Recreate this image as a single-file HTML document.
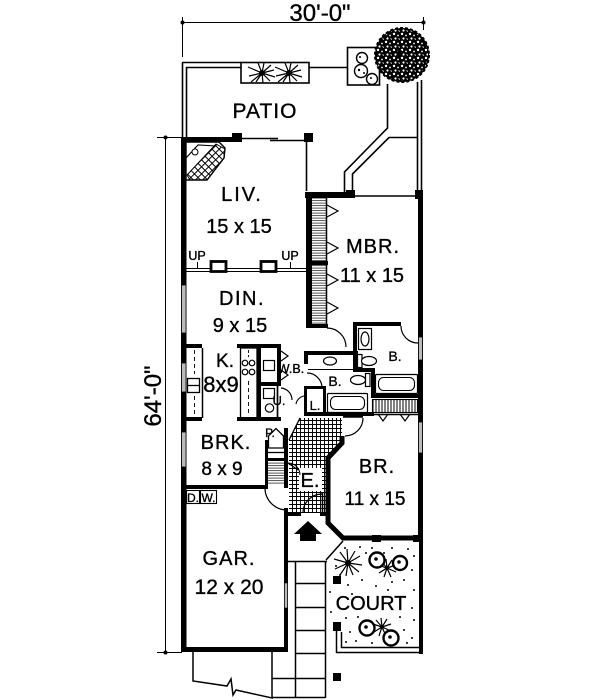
<!DOCTYPE html>
<html><head><meta charset="utf-8">
<style>
html,body{margin:0;padding:0;background:#fff;}
svg{display:block}
text{font-family:"Liberation Sans",sans-serif;fill:#000;}
.lb{stroke:#000;stroke-width:0.35;}
</style></head><body>
<svg width="600" height="700" viewBox="0 0 600 700" xmlns="http://www.w3.org/2000/svg">
<defs>
<pattern id="tile" width="4" height="4" patternUnits="userSpaceOnUse">
<path d="M0 0.5H4M0.5 0V4" stroke="#000" stroke-width="0.95" fill="none"/>
</pattern>
<pattern id="hatch" width="3" height="2.5" patternUnits="userSpaceOnUse">
<path d="M0 0.6H3" stroke="#444" stroke-width="0.9"/>
</pattern>
<pattern id="vhatch" width="3" height="3" patternUnits="userSpaceOnUse">
<path d="M1 0V3" stroke="#000" stroke-width="1"/>
</pattern>
<pattern id="diam" width="5" height="5" patternUnits="userSpaceOnUse" patternTransform="rotate(45)">
<path d="M0 0.5H5M0.5 0V5" stroke="#000" stroke-width="1" fill="none"/>
</pattern>
<pattern id="spk" width="8" height="8" patternUnits="userSpaceOnUse">
<circle cx="2" cy="2" r="1.2" fill="#fff"/>
<circle cx="6" cy="3.5" r="0.9" fill="#fff"/>
<circle cx="3.5" cy="6.5" r="1.1" fill="#fff"/>
<path d="M6.5 6.5l1.5 1" stroke="#fff" stroke-width="0.8"/>
</pattern>
</defs>

<!-- Dimension lines -->
<g stroke="#000" stroke-width="1" fill="none">
<line x1="182" y1="22.5" x2="423" y2="22.5"/>
<line x1="182.5" y1="17" x2="182.5" y2="57"/>
<line x1="423.5" y1="17" x2="423.5" y2="30"/>
<line x1="165.5" y1="137" x2="165.5" y2="652"/>
<line x1="157" y1="137.5" x2="182" y2="137.5"/>
<line x1="157" y1="652.5" x2="182" y2="652.5"/>
</g>
<circle cx="182.5" cy="22.5" r="2" fill="#000"/>
<circle cx="423.5" cy="22.5" r="2" fill="#000"/>
<circle cx="165.5" cy="137.5" r="2" fill="#000"/>
<circle cx="165.5" cy="652.5" r="2" fill="#000"/>
<text class="lb" x="320" y="21" font-size="24" text-anchor="middle">30'-0"</text>
<text class="lb" transform="translate(161,396) rotate(-90)" font-size="24" text-anchor="middle">64'-0"</text>

<!-- Patio fences -->
<g stroke="#000" stroke-width="1.6" fill="none">
<line x1="182.5" y1="62" x2="182.5" y2="137"/>
<line x1="186.5" y1="67" x2="186.5" y2="137"/>
<line x1="182" y1="62.5" x2="241" y2="62.5"/>
<line x1="186" y1="67.5" x2="241" y2="67.5"/>
<rect x="241" y="62.5" width="68" height="20.5"/>
<line x1="309" y1="67.5" x2="347" y2="67.5"/>
<rect x="347.5" y="47.5" width="32" height="37.5"/>
<line x1="417.5" y1="82" x2="417.5" y2="193"/>
<line x1="421.5" y1="80" x2="421.5" y2="193"/>
<polyline points="387.5,84 387.5,128 344.5,172 344.5,195"/>
<polyline points="417,137.5 389,137.5 352.5,174 352.5,195"/>
</g>
<!-- planter shrubs -->
<g stroke="#000" stroke-width="1.2">
<path d="M262 73l-14-6M262 73l-13 3M262 73l-11 9M262 73l-4-10M262 73l2-10M262 73l9-8M262 73l12-3M262 73l13 4M262 73l8 8M262 73l1 10M262 73l-6 9"/>
<path d="M289 73l-14-6M289 73l-13 3M289 73l-11 9M289 73l-4-10M289 73l2-10M289 73l9-8M289 73l12-3M289 73l13 4M289 73l8 8M289 73l1 10M289 73l-6 9"/>
</g>
<circle cx="262" cy="73" r="3" fill="#000"/>
<circle cx="289" cy="73" r="3" fill="#000"/>
<g stroke="#000" stroke-width="1.4" fill="#fff">
<circle cx="362" cy="58" r="5.5"/>
<circle cx="361" cy="71" r="6.5"/>
<circle cx="372" cy="79" r="5.5"/>
</g>
<g fill="#000"><circle cx="360" cy="57" r="1"/><circle cx="359" cy="70" r="1.2"/><circle cx="364" cy="73" r="1"/><circle cx="371" cy="78" r="1"/></g>
<!-- tree -->
<circle cx="402" cy="55" r="27" fill="#000" stroke="#000" stroke-width="2" stroke-dasharray="3,2"/>
<circle cx="402" cy="55" r="26" fill="url(#spk)"/>
<circle cx="400" cy="53" r="3" fill="#000"/>

<!-- House top wall -->
<rect x="181" y="137" width="56" height="5" fill="#000"/>
<rect x="232" y="133" width="10" height="9" fill="#000"/>
<line x1="242" y1="138.5" x2="278" y2="138.5" stroke="#000" stroke-width="1.4"/>
<line x1="270" y1="140.5" x2="305" y2="140.5" stroke="#000" stroke-width="1.4"/>
<rect x="304" y="133" width="9" height="9" fill="#000"/>
<line x1="306.5" y1="142" x2="306.5" y2="191" stroke="#000" stroke-width="1.6"/>

<!-- Fireplace -->
<polygon points="186,142 219,142 225,148 224,158 207,180 186,180" fill="#fff" stroke="#000" stroke-width="1.4"/>
<polygon points="216,144 225,149 224,158 207,180 190,180 187,175" fill="url(#diam)" stroke="#000" stroke-width="1"/>
<polyline points="186,158 198,145 216,146" fill="none" stroke="#000" stroke-width="1.1"/>
<circle cx="195" cy="152" r="3" fill="#fff" stroke="#000" stroke-width="1"/>

<!-- Left outer wall -->
<rect x="181" y="137" width="5.5" height="515" fill="#000"/>
<g fill="#bbb" stroke="#000" stroke-width="0.8">
<rect x="181.5" y="285" width="4.5" height="48"/>
<rect x="181.5" y="363" width="4.5" height="29"/>
<rect x="181.5" y="432" width="4.5" height="35"/>
</g>

<!-- MBR top wall -->
<rect x="305" y="192" width="48" height="6" fill="#000"/>
<rect x="346" y="190" width="9" height="8" fill="#000"/>
<line x1="355" y1="196" x2="417" y2="196" stroke="#000" stroke-width="1.4"/>
<rect x="415" y="190" width="8" height="9" fill="#000"/>
<!-- Right wall -->
<rect x="418" y="193" width="5" height="347" fill="#000"/>
<g fill="#bbb" stroke="#000" stroke-width="0.8">
<rect x="418.5" y="337" width="4" height="23"/>
<rect x="418.5" y="422" width="4" height="31"/>
</g>

<!-- MBR closets -->
<rect x="306" y="193" width="6" height="135" fill="#000"/>
<rect x="312" y="198" width="14" height="127" fill="url(#hatch)"/>
<line x1="326.5" y1="197" x2="326.5" y2="326" stroke="#000" stroke-width="1.5"/>
<rect x="306" y="261" width="22" height="4" fill="#000"/>
<rect x="306" y="324" width="22" height="4" fill="#000"/>
<g stroke="#000" stroke-width="1.2" fill="none">
<polyline points="327,205 338,211 327,217"/>
<polyline points="327,242 338,248 327,254"/>
<polyline points="327,274 338,280 327,286"/>
<polyline points="327,302 338,308 327,314"/>
</g>
<path d="M327 328 A19 19 0 0 1 346 347" fill="none" stroke="#000" stroke-width="1.2"/>

<!-- LIV/DIN divider -->
<line x1="186" y1="268.5" x2="306" y2="268.5" stroke="#000" stroke-width="1"/>
<line x1="186" y1="271.5" x2="306" y2="271.5" stroke="#000" stroke-width="1"/>
<rect x="211" y="261.5" width="15" height="10" fill="#fff" stroke="#000" stroke-width="2.8"/>
<rect x="261" y="261.5" width="15" height="10" fill="#fff" stroke="#000" stroke-width="2.8"/>
<text class="lb" x="197" y="260" font-size="12.5" text-anchor="middle">UP</text>
<text class="lb" x="290" y="260" font-size="12.5" text-anchor="middle">UP</text>
<line x1="197.5" y1="262" x2="197.5" y2="268" stroke="#000" stroke-width="1"/>
<line x1="290.5" y1="262" x2="290.5" y2="268" stroke="#000" stroke-width="1"/>

<!-- Kitchen -->
<rect x="181" y="344" width="21" height="4" fill="#000"/>
<rect x="237" y="344" width="44" height="4" fill="#000"/>
<line x1="202.5" y1="348" x2="202.5" y2="418" stroke="#000" stroke-width="1.5"/>
<line x1="194.5" y1="350" x2="194.5" y2="374" stroke="#000" stroke-width="0.9" stroke-dasharray="4,3"/>
<line x1="194.5" y1="396" x2="194.5" y2="416" stroke="#000" stroke-width="0.9" stroke-dasharray="4,3"/>
<rect x="187.5" y="378.5" width="12" height="14" fill="#fff" stroke="#000" stroke-width="1.3"/>
<line x1="187.5" y1="385.5" x2="199.5" y2="385.5" stroke="#000" stroke-width="1.3"/>
<rect x="181" y="417" width="21" height="4" fill="#000"/>
<rect x="240.5" y="348" width="16.5" height="70" fill="#fff" stroke="#000" stroke-width="1.3"/>
<g fill="#fff" stroke="#000" stroke-width="1.2">
<circle cx="245" cy="363" r="2.8"/><circle cx="252" cy="363" r="2.8"/>
<circle cx="245" cy="372" r="2.8"/><circle cx="252" cy="372" r="2.8"/>
</g>
<line x1="248.5" y1="381" x2="248.5" y2="416" stroke="#000" stroke-width="0.9" stroke-dasharray="4,3"/>
<line x1="248.5" y1="350" x2="248.5" y2="357" stroke="#000" stroke-width="0.9" stroke-dasharray="3,2"/>
<rect x="257" y="344" width="4" height="77" fill="#000"/>
<rect x="277" y="344" width="4" height="40" fill="#000"/>
<rect x="261" y="382" width="20" height="4" fill="#000"/>
<rect x="263.5" y="360.5" width="11" height="10" fill="#fff" stroke="#000" stroke-width="1.2"/>
<rect x="263.5" y="388.5" width="11" height="10" fill="#fff" stroke="#000" stroke-width="1.2"/>
<circle cx="269.5" cy="408" r="4.2" fill="#fff" stroke="#000" stroke-width="1.2"/>
<rect x="237" y="417" width="44" height="4" fill="#000"/>
<line x1="277.5" y1="386" x2="277.5" y2="418" stroke="#000" stroke-width="1.7"/>
<g stroke="#000" stroke-width="1.2" fill="none">
<polyline points="281,351 288,356 281,361"/>
<polyline points="281,370 288,375 281,380"/>
<path d="M281 388 A12 12 0 0 1 292 400"/>
</g>

<!-- Baths -->
<rect x="304" y="351" width="54" height="4" fill="#000"/>
<rect x="353" y="322" width="48" height="4" fill="#000"/>
<rect x="353" y="322" width="4" height="50" fill="#000"/>
<rect x="353" y="368" width="22" height="4" fill="#000"/>
<rect x="371" y="368" width="4" height="30" fill="#000"/>
<rect x="371" y="394" width="50" height="4" fill="#000"/>
<path d="M401 326 A17 17 0 0 0 418 343" fill="none" stroke="#000" stroke-width="1.2"/>
<rect x="358.5" y="328.5" width="13" height="21" fill="#fff" stroke="#000" stroke-width="1.2"/>
<ellipse cx="365" cy="339" rx="4" ry="7" fill="#fff" stroke="#000" stroke-width="1.2"/>
<rect x="357.5" y="354.5" width="4.5" height="13" fill="#fff" stroke="#000" stroke-width="1.2"/>
<ellipse cx="369" cy="361" rx="7.5" ry="4.5" fill="#fff" stroke="#000" stroke-width="1.2"/>
<rect x="375.5" y="374.5" width="42" height="19" rx="1" fill="#fff" stroke="#000" stroke-width="1.2"/>
<rect x="378.5" y="377.5" width="36" height="13" rx="5" fill="#fff" stroke="#000" stroke-width="1.1"/>

<rect x="304" y="351" width="4" height="13" fill="#000"/>
<path d="M307 373 A15 15 0 0 1 322 388" fill="none" stroke="#000" stroke-width="1.2"/>
<line x1="308" y1="369.5" x2="353" y2="369.5" stroke="#000" stroke-width="1.1"/>
<ellipse cx="330" cy="361" rx="6.5" ry="4" fill="#fff" stroke="#000" stroke-width="1.2"/>
<rect x="365.5" y="373.5" width="4.5" height="13" fill="#fff" stroke="#000" stroke-width="1.2"/>
<ellipse cx="358" cy="380" rx="7.5" ry="4.5" fill="#fff" stroke="#000" stroke-width="1.2"/>
<rect x="327.5" y="393.5" width="40" height="19" rx="1" fill="#fff" stroke="#000" stroke-width="1.2"/>
<rect x="330.5" y="396.5" width="34" height="13" rx="5" fill="#fff" stroke="#000" stroke-width="1.1"/>
<rect x="305.5" y="387.5" width="19" height="26" fill="#fff" stroke="#000" stroke-width="3"/>
<path d="M304 396 A10 10 0 0 0 296 404" fill="none" stroke="#000" stroke-width="1.1"/>
<rect x="304" y="412" width="70" height="4" fill="#000"/>

<!-- BR closet -->
<rect x="372.5" y="399.5" width="45" height="13" fill="url(#vhatch)" stroke="#000" stroke-width="1.1"/>
<g stroke="#000" stroke-width="1.2" fill="none">
<polyline points="378,414 383,421 388,414"/>
<polyline points="400,414 405,421 410,414"/>
</g>
<line x1="363" y1="414.5" x2="420" y2="414.5" stroke="#000" stroke-width="1.4"/>

<!-- Foyer tile -->
<polygon points="300,418 342,418 342,443 328,458 328,513 289,513 289,440" fill="url(#tile)"/>
<rect x="299" y="468" width="23" height="23" fill="#fff"/>
<line x1="300" y1="418" x2="289" y2="440" stroke="#000" stroke-width="1.3"/>
<line x1="343" y1="416.5" x2="363" y2="416.5" stroke="#000" stroke-width="2.5"/>
<path d="M363 418 A18 18 0 0 1 345 436" fill="none" stroke="#000" stroke-width="1.2"/>
<!-- BR walls -->
<polyline points="342,436 342,443 328,458 328,523 343,538 420,538" fill="none" stroke="#000" stroke-width="5" stroke-linejoin="miter"/>
<rect x="372" y="535" width="9" height="7" fill="#000"/>
<rect x="413" y="535" width="10" height="7" fill="#000"/>

<!-- Pantry & coat closet -->
<rect x="265" y="440" width="3" height="48" fill="#000"/>
<rect x="284" y="428" width="4" height="60" fill="#000"/>
<polygon points="268.5,448 268.5,436 276,428.5 283.5,436 283.5,448" fill="#fff" stroke="#000" stroke-width="1.3"/>
<line x1="268" y1="452.5" x2="284" y2="452.5" stroke="#000" stroke-width="1.3"/>
<rect x="268" y="462" width="16" height="22" fill="url(#hatch)"/>
<rect x="268" y="458" width="16" height="3" fill="#000"/>
<path d="M288 463 A12 12 0 0 1 300 475" fill="none" stroke="#000" stroke-width="1.1"/>
<line x1="288" y1="463" x2="298" y2="470" stroke="#000" stroke-width="1.1"/>

<!-- BRK/GAR wall & garage -->
<rect x="181" y="485" width="87" height="4" fill="#000"/>
<path d="M265 488 A22 22 0 0 0 287 510" fill="none" stroke="#000" stroke-width="1.2"/>
<rect x="284" y="508" width="4" height="144" fill="#000"/>
<rect x="284.5" y="583" width="3" height="25" fill="#bbb" stroke="#000" stroke-width="0.6"/>
<rect x="181" y="647" width="107" height="5" fill="#000"/>
<rect x="186.5" y="490.5" width="13" height="13" fill="#fff" stroke="#000" stroke-width="1.1"/>
<rect x="200.5" y="490.5" width="16" height="13" fill="#fff" stroke="#000" stroke-width="1.1"/>
<text class="lb" x="193" y="502" font-size="12" text-anchor="middle">D.</text>
<text class="lb" x="208.5" y="502" font-size="12" text-anchor="middle">W.</text>

<!-- Entry walls & door -->
<rect x="287" y="512" width="14" height="4" fill="#000"/>
<rect x="320" y="512" width="10" height="4" fill="#000"/>
<line x1="322.5" y1="493" x2="322.5" y2="513" stroke="#000" stroke-width="1.6"/>
<path d="M303 513 A19 19 0 0 1 322 494" fill="none" stroke="#000" stroke-width="1.2"/>
<polygon points="308,521 322,534 316,534 316,541 300,541 300,534 294,534" fill="#000"/>

<!-- Apron -->
<g stroke="#000" stroke-width="1.5" fill="none">
<polyline points="193,648 193,681 227,686 231,679 233,695 236,690 272,698 272,648"/>
<line x1="193" y1="648.5" x2="272" y2="648.5"/>
</g>
<!-- Walk -->
<g stroke="#000" stroke-width="1.5" fill="none">
<line x1="288" y1="561.5" x2="327" y2="561.5"/>
<line x1="295.5" y1="561" x2="295.5" y2="698"/>
<line x1="325.5" y1="561" x2="325.5" y2="698"/>
<line x1="295" y1="583.5" x2="325" y2="583.5"/>
<line x1="295" y1="607.5" x2="325" y2="607.5"/>
<line x1="295" y1="630.5" x2="325" y2="630.5"/>
<line x1="295" y1="653.5" x2="325" y2="653.5"/>
<line x1="272" y1="678.5" x2="325" y2="678.5"/>
<line x1="272" y1="697.5" x2="325" y2="697.5"/>
</g>

<!-- Court -->
<g stroke="#000" stroke-width="1.5" fill="none">
<line x1="326" y1="560" x2="343" y2="541"/>
<line x1="336.5" y1="628" x2="336.5" y2="653"/>
<line x1="336" y1="652.5" x2="423" y2="652.5"/>
<line x1="341.5" y1="632" x2="341.5" y2="648"/>
<line x1="341" y1="647.5" x2="419" y2="647.5"/>
</g>
<rect x="419" y="538" width="4" height="116" fill="#000"/>
<rect x="333" y="576" width="8" height="8" fill="#000"/>
<rect x="333" y="622" width="8" height="9" fill="#000"/>
<rect x="333" y="673" width="8" height="8" fill="#000"/>
<g fill="#000">
<circle cx="345" cy="548" r="1"/><circle cx="360" cy="547" r="1"/><circle cx="372" cy="548" r="1"/><circle cx="392" cy="548" r="1"/><circle cx="408" cy="549" r="1"/><circle cx="414" cy="556" r="1"/>
<circle cx="336" cy="566" r="1"/><circle cx="366" cy="553" r="1"/><circle cx="412" cy="570" r="1"/><circle cx="404" cy="580" r="1"/><circle cx="392" cy="582" r="1"/>
<circle cx="348" cy="585" r="1"/><circle cx="362" cy="580" r="1"/><circle cx="376" cy="586" r="1"/><circle cx="414" cy="590" r="1"/><circle cx="330" cy="592" r="1"/>
<circle cx="331" cy="612" r="1"/><circle cx="412" cy="608" r="1"/><circle cx="414" cy="620" r="1"/><circle cx="346" cy="618" r="1"/><circle cx="358" cy="617" r="1"/><circle cx="400" cy="617" r="1"/>
<circle cx="350" cy="632" r="1"/><circle cx="346" cy="642" r="1"/><circle cx="356" cy="641" r="1"/><circle cx="404" cy="630" r="1"/><circle cx="412" cy="638" r="1"/><circle cx="372" cy="643" r="1"/><circle cx="407" cy="643" r="1"/>
<circle cx="384" cy="553" r="1"/><circle cx="340" cy="575" r="1"/><circle cx="388" cy="590" r="1"/><circle cx="405" cy="597" r="1"/><circle cx="352" cy="594" r="1"/>
</g>
<g stroke="#000" stroke-width="1.2">
<path d="M348 563l-14-4M348 563l-13 6M348 563l-8 12M348 563l-2 13M348 563l5 12M348 563l11 9M348 563l14 2M348 563l12-7M348 563l7-12M348 563l-1-14M348 563l-8-11"/>
<path d="M387 568l-9-3M387 568l-8 5M387 568l-3 9M387 568l4 9M387 568l9 4M387 568l9-3M387 568l5-8M387 568l-1-9M387 568l-6-7"/>
<path d="M382 627l-9-3M382 627l-8 5M382 627l-3 9M382 627l4 9M382 627l9 4M382 627l9-3M382 627l5-8M382 627l-1-9M382 627l-6-7"/>
</g>
<circle cx="348" cy="563" r="3" fill="#000"/>
<g stroke="#000" stroke-width="2.4" fill="#fff">
<circle cx="377" cy="560" r="7.5"/>
<circle cx="400" cy="563" r="7"/>
<circle cx="367" cy="628" r="7.5"/>
<circle cx="391" cy="638" r="7.5"/>
</g>
<g fill="#000"><circle cx="376" cy="559" r="1.8"/><circle cx="399" cy="562" r="1.8"/><circle cx="366" cy="627" r="1.8"/><circle cx="390" cy="637" r="1.8"/><circle cx="387" cy="568" r="2.2"/><circle cx="382" cy="627" r="2.2"/></g>

<!-- Labels -->
<text class="lb" x="265" y="118" font-size="21" text-anchor="middle" letter-spacing="1">PATIO</text>
<text class="lb" x="242" y="201" font-size="20" text-anchor="middle" letter-spacing="2">LIV.</text>
<text class="lb" x="239" y="233" font-size="20" text-anchor="middle">15 x 15</text>
<text class="lb" x="373" y="253" font-size="20" text-anchor="middle" letter-spacing="1">MBR.</text>
<text class="lb" x="372" y="282" font-size="20" text-anchor="middle">11 x 15</text>
<text class="lb" x="242" y="305" font-size="20" text-anchor="middle" letter-spacing="1.5">DIN.</text>
<text class="lb" x="240" y="332" font-size="20" text-anchor="middle">9 x 15</text>
<text class="lb" x="225" y="367" font-size="19" text-anchor="middle">K.</text>
<text class="lb" x="221" y="392" font-size="22" text-anchor="middle">8x9</text>
<text class="lb" x="291" y="373" font-size="12.5" text-anchor="middle">W.B.</text>
<text class="lb" x="395" y="361" font-size="14" text-anchor="middle">B.</text>
<text class="lb" x="335" y="386" font-size="14" text-anchor="middle">B.</text>
<text class="lb" x="279" y="405" font-size="13" text-anchor="middle">U.</text>
<text class="lb" x="315" y="410" font-size="13" text-anchor="middle">L.</text>
<text class="lb" x="226" y="449" font-size="20" text-anchor="middle" letter-spacing="1">BRK.</text>
<text class="lb" x="222" y="475" font-size="19" text-anchor="middle">8 x 9</text>
<text class="lb" x="270" y="437" font-size="12" text-anchor="middle">P.</text>
<text class="lb" x="310" y="487" font-size="20" text-anchor="middle">E.</text>
<text class="lb" x="377" y="473" font-size="20" text-anchor="middle" letter-spacing="1">BR.</text>
<text class="lb" x="375" y="505" font-size="19" text-anchor="middle">11 x 15</text>
<text class="lb" x="229" y="565" font-size="20" text-anchor="middle" letter-spacing="1">GAR.</text>
<text class="lb" x="229" y="594" font-size="21" text-anchor="middle">12 x 20</text>
<text class="lb" x="371" y="610" font-size="20" text-anchor="middle">COURT</text>
</svg>
</body></html>
